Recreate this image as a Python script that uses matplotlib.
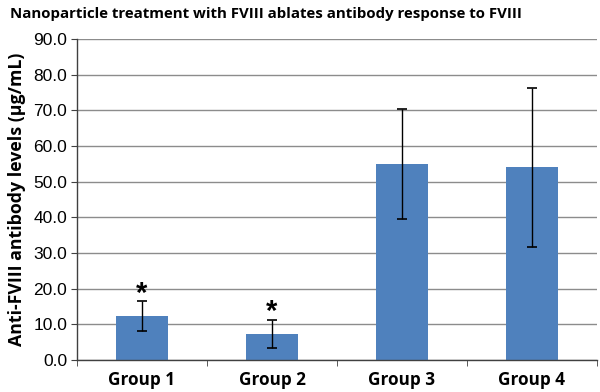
import numpy as np
import matplotlib
matplotlib.use("Agg")
import matplotlib.pyplot as plt

# values
groups = ["Group 1", "Group 2", "Group 3", "Group 4"]
means = [12.3, 7.4, 54.9, 54.0]
errors = [4.2, 3.9, 15.5, 22.4]
significant = [True, True, False, False]

bar_color = "#4F81BD"

fig = plt.figure(figsize=(6.0, 3.92), dpi=100)
ax = fig.add_axes([77 / 600, 1 - 360 / 392, 520 / 600, 321 / 392])

x = np.arange(len(groups))
ax.bar(x, means, width=0.4, color=bar_color, zorder=2)
ax.errorbar(x, means, yerr=errors, fmt="none", ecolor="black",
            elinewidth=1.0, capsize=3.5, capthick=1.2, zorder=3)

# asterisks above the error bars of the significant groups
for xi, m, e, sig in zip(x, means, errors, significant):
    if sig:
        ax.text(xi, m + e - 1.8, "*", ha="center", va="bottom",
                fontsize=21, fontweight="bold", family="Liberation Sans")

ax.set_xlim(-0.5, len(groups) - 0.5)
ax.set_ylim(0, 90)
ax.set_yticks(np.arange(0, 91, 10))
ax.set_yticklabels([f"{v:.1f}" for v in np.arange(0, 91, 10)],
                   family="Liberation Sans", fontsize=12.5)
ax.yaxis.grid(True, color="#8c8c8c", linewidth=1.0, zorder=0)
ax.set_axisbelow(True)

ax.set_xticks(x)
ax.set_xticklabels(groups, fontsize=12.3, fontweight="bold", family="Open Sans")
ax.set_xticks(np.arange(-0.5, len(groups)), minor=True)
ax.tick_params(axis="x", which="major", length=0, pad=8)
ax.tick_params(axis="x", which="minor", length=4, color="#404040", direction="out")
ax.tick_params(axis="y", length=4, color="#404040", pad=3)

for side in ["top", "right"]:
    ax.spines[side].set_visible(False)
for side in ["left", "bottom"]:
    ax.spines[side].set_color("#404040")
    ax.spines[side].set_linewidth(1.0)

ax.set_ylabel("Anti-FVIII antibody levels (\u00b5g/mL)", fontsize=12.8,
              fontweight="bold", family="Open Sans", labelpad=5)
fig.text(10 / 600, 1 - 14 / 392,
         "Nanoparticle treatment with FVIII ablates antibody response to FVIII",
         fontsize=10.8, fontweight="bold", family="Open Sans", va="center", ha="left")

fig.savefig("out.png", dpi=100)
